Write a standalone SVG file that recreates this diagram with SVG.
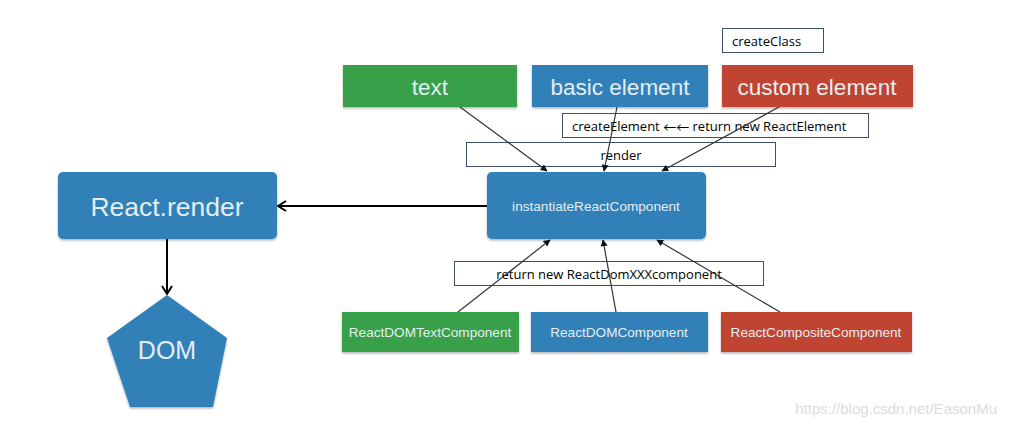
<svg xmlns="http://www.w3.org/2000/svg" width="1010" height="425" viewBox="0 0 1010 425">
<style>
.n{stroke:none}
.g{fill:#37a04a}
.b{fill:#3080b8}
.r{fill:#bf4430}
.lbl{font-family:"Liberation Sans",Arial,sans-serif;fill:#e4eef2;text-anchor:middle;dominant-baseline:central}
.note{fill:#fff;stroke:#3d5068;stroke-width:1}
.nt{font-family:"Open Sans","Liberation Sans",sans-serif;font-size:13px;fill:#000;dominant-baseline:central}
.ar{font-family:"Noto Sans CJK SC","DejaVu Sans",sans-serif;font-size:13px}
.thin{stroke:#333;stroke-width:1.2;fill:none;marker-end:url(#tri)}
.thick{stroke:#000;stroke-width:2;fill:none;marker-end:url(#chev)}
</style>
<defs>
<filter id="sh" x="-10%" y="-10%" width="120%" height="130%">
<feDropShadow dx="0" dy="1.5" stdDeviation="1.2" flood-color="#000" flood-opacity="0.3"/>
</filter>
<marker id="tri" viewBox="0 0 10 10" refX="9" refY="5" markerWidth="7" markerHeight="7" markerUnits="userSpaceOnUse" orient="auto">
<path d="M0,0 L10,5 L0,10 Z" fill="#111"/>
</marker>
<marker id="chev" viewBox="0 0 12 12" refX="11" refY="6" markerWidth="12" markerHeight="12" markerUnits="userSpaceOnUse" orient="auto">
<path d="M3,1 L11,6 L3,11" fill="none" stroke="#000" stroke-width="2"/>
</marker>
</defs>
<rect width="1010" height="425" fill="#fff"/>

<g id="n-text"><rect class="n g" x="343" y="65" width="174" height="42" filter="url(#sh)"/><text class="lbl" x="430" y="87" font-size="22.5">text</text></g>
<g id="n-basic"><rect class="n b" x="532" y="65" width="176" height="42" filter="url(#sh)"/><text class="lbl" x="620" y="87" font-size="22.5">basic element</text></g>
<g id="n-custom"><rect class="n r" x="722" y="65" width="191" height="42" filter="url(#sh)"/><text class="lbl" x="817" y="87" font-size="22.5">custom element</text></g>

<g id="n-instantiate"><rect class="n b" x="487" y="172" width="219" height="67" rx="5" filter="url(#sh)"/><text class="lbl" x="596" y="206" font-size="13.6">instantiateReactComponent</text></g>
<g id="n-reactrender"><rect class="n b" x="58" y="172" width="219" height="67" rx="5" filter="url(#sh)"/><text class="lbl" x="167" y="207" font-size="26.5">React.render</text></g>
<g id="n-dom"><polygon class="n b" points="167,295 227,338 213,407 130,407 107,338" filter="url(#sh)"/><text class="lbl" x="167" y="350" font-size="25">DOM</text></g>

<g id="n-rdtext"><rect class="n g" x="342" y="312" width="177" height="40" filter="url(#sh)"/><text class="lbl" x="430" y="332" font-size="13.6">ReactDOMTextComponent</text></g>
<g id="n-rdom"><rect class="n b" x="531" y="312" width="177" height="40" filter="url(#sh)"/><text class="lbl" x="619" y="332" font-size="13.6">ReactDOMComponent</text></g>
<g id="n-rcomp"><rect class="n r" x="721" y="312" width="191" height="40" filter="url(#sh)"/><text class="lbl" x="816" y="332" font-size="13.6">ReactCompositeComponent</text></g>

<g id="n-createclass"><rect class="note" x="722.5" y="28.5" width="101" height="24"/><text class="nt" x="732" y="41">createClass</text></g>
<g id="n-createelement"><rect class="note" x="562.5" y="113.5" width="306" height="24"/><text class="nt" x="572" y="126">createElement <tspan class="ar">←←</tspan> return new ReactElement</text></g>
<g id="n-render"><rect class="note" x="466.5" y="142.5" width="309" height="24"/><text class="nt" x="621" y="155" text-anchor="middle">render</text></g>
<g id="n-return"><rect class="note" x="454.5" y="261.5" width="309" height="24"/><text class="nt" x="609" y="274" text-anchor="middle">return new ReactDomXXXcomponent</text></g>

<g id="connectors">
<line class="thin" x1="460" y1="107" x2="547" y2="171"/>
<line class="thin" x1="617" y1="107" x2="604" y2="171"/>
<line class="thin" x1="779" y1="107" x2="662" y2="171"/>
<line class="thin" x1="458" y1="312" x2="550" y2="240"/>
<line class="thin" x1="616" y1="312" x2="603" y2="240"/>
<line class="thin" x1="780" y1="312" x2="657" y2="240"/>
<line class="thick" x1="487" y1="206" x2="278" y2="206"/>
<line class="thick" x1="167" y1="239" x2="167" y2="294"/>
</g>

<text x="997" y="408" font-family="Liberation Sans,Arial,sans-serif" font-size="15" fill="#dcdcdc" text-anchor="end" dominant-baseline="central">https://blog.csdn.net/EasonMu</text>
</svg>
